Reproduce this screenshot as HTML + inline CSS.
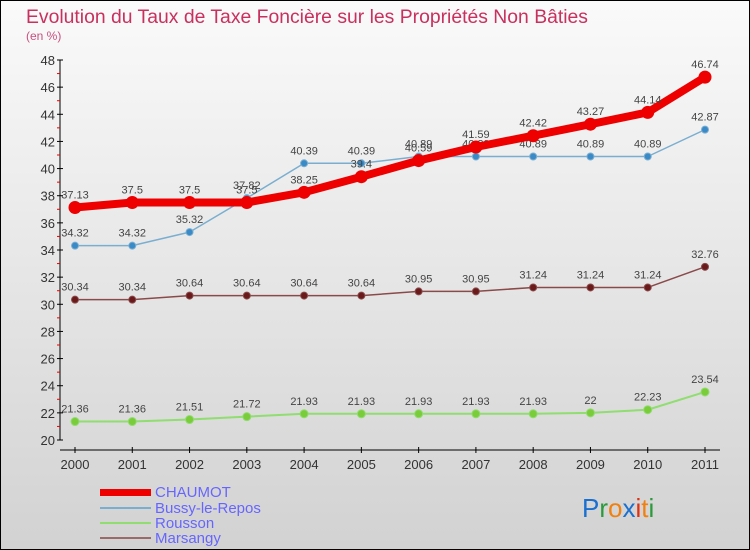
<!DOCTYPE html>
<html><head><meta charset="utf-8"><style>
body{margin:0;width:750px;height:550px;overflow:hidden}
#c{width:750px;height:550px;box-sizing:border-box;border:1px solid #000;background:linear-gradient(#fafafa,#d2d2d2);position:relative;font-family:"Liberation Sans",sans-serif}
</style></head><body>
<div id="c">
<svg id="s" width="750" height="550" style="position:absolute;left:-1px;top:-1px">
<text x="26" y="23" font-size="19" fill="#c8305e" textLength="562" lengthAdjust="spacingAndGlyphs">Evolution du Taux de Taxe Foncière sur les Propriétés Non Bâties</text>
<text x="26" y="40" font-size="12" fill="#c8507e">(en %)</text>
<g id="axes"></g><g id="series"></g>
<g>
<rect x="100" y="489" width="51" height="7" fill="#e00"/>
<text x="155" y="497" font-size="15" fill="#6666ff">CHAUMOT</text>
<rect x="100" y="507" width="51" height="2" fill="#7aaed0"/>
<text x="155" y="513" font-size="15" fill="#6666ff">Bussy-le-Repos</text>
<rect x="100" y="522" width="51" height="2" fill="#90dd70"/>
<text x="155" y="528" font-size="15" fill="#6666ff">Rousson</text>
<rect x="100" y="537" width="51" height="2" fill="#9a6a6a"/>
<text x="155" y="543" font-size="15" fill="#6666ff">Marsangy</text>
</g>
<g font-size="26">
<text x="582" y="517"><tspan fill="#1a6fd0">P</tspan><tspan fill="#2a9a3a">r</tspan><tspan fill="#f08010">o</tspan><tspan fill="#1a6fd0">x</tspan><tspan fill="#e03010">i</tspan><tspan fill="#f08010">t</tspan><tspan fill="#2a9a3a">i</tspan></text>
</g>
</svg></div>
<script>
const years=["2000","2001","2002","2003","2004","2005","2006","2007","2008","2009","2010","2011"];
const chaumot=[37.13,37.5,37.5,37.5,38.25,39.4,40.59,41.59,42.42,43.27,44.14,46.74];
const bussy=[34.32,34.32,35.32,37.82,40.39,40.39,40.89,40.89,40.89,40.89,40.89,42.87];
const rousson=[21.36,21.36,21.51,21.72,21.93,21.93,21.93,21.93,21.93,22,22.23,23.54];
const marsangy=[30.34,30.34,30.64,30.64,30.64,30.64,30.95,30.95,31.24,31.24,31.24,32.76];
const yTicks=[20,22,24,26,28,30,32,34,36,38,40,42,44,46,48];
const NS="http://www.w3.org/2000/svg";
const X=i=>75+i*(630/(years.length-1));
const Y=v=>440-(v-20)*(380/28);
function mk(t,a,p){const e=document.createElementNS(NS,t);for(const k in a)e.setAttribute(k,a[k]);p.appendChild(e);return e;}
const ax=document.getElementById('axes'),sr=document.getElementById('series');
let l=mk('line',{x1:60,y1:Y(48),x2:60,y2:Y(20),stroke:'#000'},ax);


yTicks.forEach(v=>{
 mk('line',{x1:57,x2:63,y1:Y(v),y2:Y(v),stroke:'#000'},ax);
 if(v<48)mk('line',{x1:57,x2:60,y1:Y(v+1),y2:Y(v+1),stroke:'#e00'},ax);
 const t=mk('text',{x:55,y:Y(v)+5,'font-size':13,fill:'#333','text-anchor':'end'},ax);t.textContent=v;
 
 
});
l=mk('line',{x1:60,y1:450,x2:720,y2:450,stroke:'#000'},ax);


years.forEach((y,i)=>{
 mk('line',{x1:X(i),x2:X(i),y1:447,y2:453,stroke:'#000'},ax);
 const t=mk('text',{x:X(i),y:469,'font-size':13,fill:'#333','text-anchor':'middle'},ax);t.textContent=y;
 
 
});
function series(d,name,col,w,r,fill){
 const g=mk('g',{},sr);
 
 
 mk('polyline',{points:d.map((v,i)=>X(i)+','+Y(v)).join(' '),fill:'none',stroke:col,'stroke-width':w,'stroke-linejoin':'round'},g);
 d.forEach((v,i)=>{
  const c=mk('circle',{cx:X(i),cy:Y(v),r:r,fill:fill,stroke:col,'stroke-width':1},g);
  
  
  const t=mk('text',{x:X(i),y:Y(v)-9,'font-size':11,fill:'#444','text-anchor':'middle'},g);t.textContent=v;
  
  
 });
}
series(rousson,'rousson','#90dd70',2,4,'#7acc3a');
series(marsangy,'marsangy','#8a4a4a',1.5,3.5,'#6a1a1a');
series(bussy,'bussy','#7aaed0',1.5,3.5,'#3a8ac8');
series(chaumot,'chaumot','#e00',8,6,'#e00');
</script>
</body></html>
